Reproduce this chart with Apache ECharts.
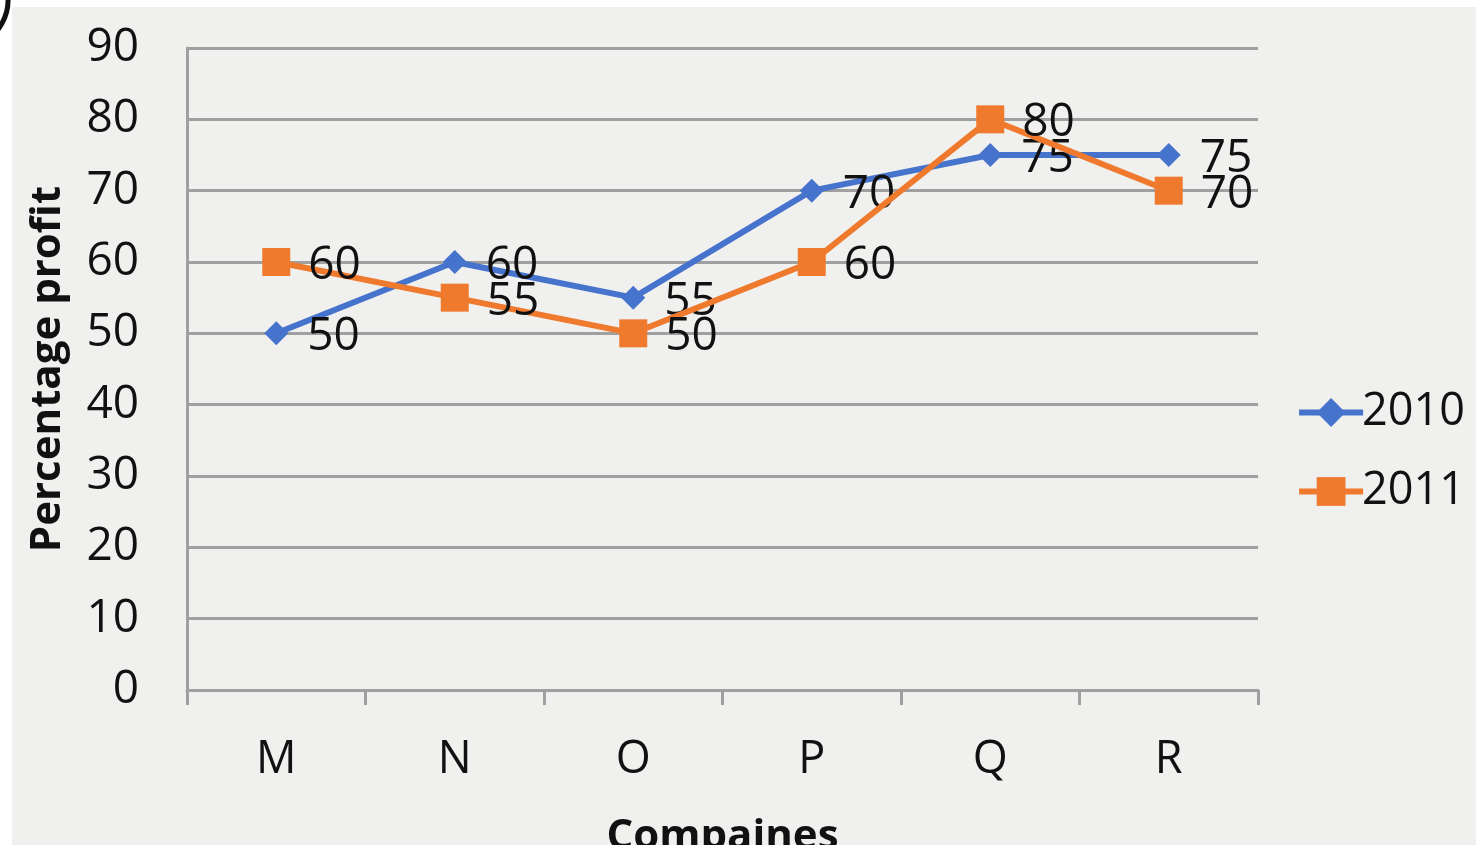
<!DOCTYPE html>
<html>
<head>
<meta charset="utf-8">
<script src="https://cdn.jsdelivr.net/npm/echarts@6/dist/echarts.min.js"></script>
<style>
  html, body { margin: 0; padding: 0; background: #ffffff; }
  #chart { position: absolute; left: 0; top: 0; width: 1476px; height: 845px; }
</style>
</head>
<body>
<div id="chart"></div>
<script>
  const companies = ["M", "N", "O", "P", "Q", "R"];
  const profit2010 = [50, 60, 55, 70, 75, 75];
  const profit2011 = [60, 55, 50, 60, 80, 70];
  const yTicks = [0, 90, 10]; // min, max, interval

  const chart = echarts.init(document.getElementById("chart"));
  const font = "'Open Sans', 'Liberation Sans', sans-serif";

  chart.setOption({
    backgroundColor: "#ffffff",
    animation: false,
    graphic: [
      {
        type: "rect",
        z: -10,
        shape: { x: 12, y: 7, width: 1464, height: 838 },
        style: { fill: "#f0f0ef" }
      },
      {
        type: "arc",
        z: 10,
        shape: { cx: -40, cy: 0, r: 48, startAngle: -0.2, endAngle: 1.2 },
        style: { stroke: "#111", lineWidth: 5, fill: null }
      }
    ],
    grid: { left: 187, right: 218, top: 48, bottom: 155, outerBoundsMode: "none", containLabel: false },
    legend: {
      orient: "vertical",
      right: 6,
      top: 385,
      itemGap: 34,
      itemWidth: 64,
      itemHeight: 36,
      lineStyle: { width: 6 },
      textStyle: { fontFamily: font, fontSize: 45, color: "#111", padding: [0, 0, 0, -6] },
      data: ["2010", "2011"]
    },
    xAxis: {
      type: "category",
      data: companies,
      boundaryGap: true,
      name: "Compaines",
      nameLocation: "middle",
      nameGap: 126,
      nameTextStyle: { fontFamily: font, fontSize: 42, fontWeight: "bold", color: "#111" },
      axisLine: { lineStyle: { color: "#a0a0a0", width: 3 } },
      axisTick: { show: true, length: 15, lineStyle: { color: "#a0a0a0", width: 3 } },
      axisLabel: { fontFamily: font, fontSize: 45, color: "#111", margin: 48 },
      splitLine: { show: false }
    },
    yAxis: {
      type: "value",
      min: yTicks[0],
      max: yTicks[1],
      interval: yTicks[2],
      name: "Percentage profit",
      nameLocation: "middle",
      nameGap: 118,
      nameTextStyle: { fontFamily: font, fontSize: 42, fontWeight: "bold", color: "#111" },
      axisLine: { show: true, lineStyle: { color: "#a0a0a0", width: 3 } },
      axisTick: { show: false },
      axisLabel: { fontFamily: font, fontSize: 46, color: "#111", margin: 48 },
      splitLine: { lineStyle: { color: "#a0a0a0", width: 3 } }
    },
    series: [
      {
        name: "2010",
        type: "line",
        data: profit2010,
        symbol: "diamond",
        symbolSize: 24,
        itemStyle: { color: "#4673cb" },
        lineStyle: { color: "#4673cb", width: 6 },
        label: {
          show: true,
          position: "right",
          distance: 19,
          offset: [0, 4],
          fontFamily: font,
          fontSize: 46,
          color: "#111"
        },
        z: 3
      },
      {
        name: "2011",
        type: "line",
        data: profit2011,
        symbol: "rect",
        symbolSize: 28,
        itemStyle: { color: "#ef7a2e" },
        lineStyle: { color: "#ef7a2e", width: 6 },
        label: {
          show: true,
          position: "right",
          distance: 18,
          offset: [0, 4],
          fontFamily: font,
          fontSize: 46,
          color: "#111"
        },
        z: 4
      }
    ]
  });
</script>
</body>
</html>
